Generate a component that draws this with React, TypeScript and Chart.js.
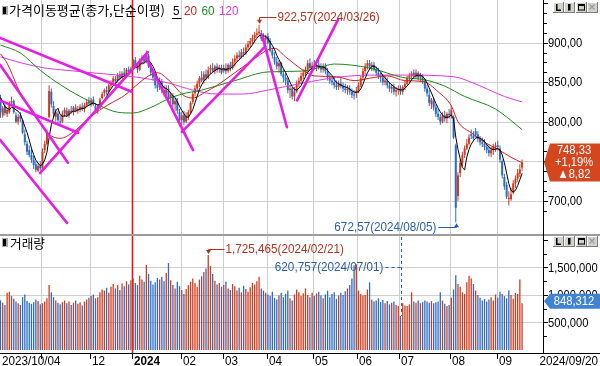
import React, { useEffect, useRef } from 'react';
import { Chart, registerables } from 'chart.js';

Chart.register(...registerables);

// ---------------- data (2023/10/04 .. 2024/09/20, one entry per trading day) ----------------
const opens = [
  830,808,820,810,812,824,826,808,800,808,802,784,772,764,758,752,746,738,744,
  742,764,772,806,838,820,806,810,800,800,810,814,808,814,812,818,814,816,819,816,821,826,
  822,828,820,814,818,830,836,840,838,846,850,854,852,860,856,862,860,866,864,
  868,878,870,866,878,880,876,884,870,862,856,846,844,850,840,836,842,830,832,822,826,812,
  802,808,800,806,812,825,836,842,848,856,852,860,856,866,868,864,870,866,868,
  864,868,864,872,868,876,880,884,882,888,886,894,898,902,906,910,912,912,906,904,
  908,902,890,882,876,870,874,860,856,852,840,842,832,838,848,852,858,862,866,874,868,
  872,870,872,868,866,870,864,856,852,850,846,844,848,845,842,840,842,838,834,836,
  838,846,856,864,870,874,870,872,866,862,858,856,850,852,846,842,844,838,840,
  842,838,844,848,856,858,862,857,862,856,858,852,842,834,822,826,818,810,806,800,808,804,810,
  808,806,770,706,735,748,758,766,772,784,782,788,784,778,774,772,768,764,760,764,768,
  770,766,750,730,720,702,702,710,722,728,734,742,
];
const highs = [
  834,820,822,818,826,832,828,812,810,812,804,790,776,770,766,757,750,748,750,
  766,776,790,846,842,826,816,814,808,814,818,818,816,820,820,822,820,822,824,824,828,831,
  830,832,824,822,830,838,842,845,848,852,858,858,862,864,864,868,868,870,870,
  880,882,874,880,884,884,890,886,874,866,860,852,856,854,846,846,846,838,836,830,830,816,
  812,814,812,815,826,838,846,852,858,864,864,866,870,872,874,872,874,872,872,
  872,874,874,876,880,884,888,890,892,894,898,902,906,910,914,918,922.57,916,912,910,
  912,906,894,888,882,878,876,866,862,856,846,844,844,852,856,862,866,870,878,880,876,
  878,876,878,874,874,874,868,860,858,856,852,852,856,850,848,846,846,842,840,844,
  850,858,868,874,878,878,876,876,870,868,862,860,858,856,850,848,848,844,846,
  846,846,852,858,862,864,866,866,864,862,860,854,846,840,830,830,822,816,810,812,814,812,816,
  818,808,772,736,752,762,770,778,784,790,788,792,788,782,780,778,772,770,768,772,774,
  776,770,752,734,724,712,716,726,732,740,746,752,
];
const lows = [
  805,805,808,806,810,820,810,798,796,800,784,770,758,755,748,740,736,736,738,
  740,760,770,804,818,806,800,798,796,798,806,806,805,810,808,812,810,812,814,812,818,820,
  819,820,812,810,816,828,832,834,836,842,846,848,850,852,854,856,856,860,860,
  866,868,862,864,872,874,874,868,858,852,842,838,840,836,832,830,826,822,818,814,810,798,
  789,796,798,802,810,822,832,838,844,850,848,852,854,860,862,860,862,862,860,
  862,860,862,864,866,870,876,878,880,882,884,890,894,898,900,906,908,902,900,898,
  898,888,880,872,866,862,858,850,846,836,830,828,826,836,844,848,854,858,862,866,864,
  866,864,866,862,862,860,852,848,846,842,840,840,842,838,836,834,834,830,828,830,
  836,844,852,860,866,866,864,864,858,854,850,846,846,842,838,836,834,832,834,
  834,834,840,846,850,852,854,854,852,850,848,838,832,820,816,814,806,802,796,798,800,798,804,
  804,778,672.57,700,730,744,754,764,770,778,776,780,774,770,768,764,760,756,755,758,762,
  764,748,728,714,702,694,700,708,716,724,730,738,
];
const closes = [
  812,817,811,815,822,826,812,800,806,804,786,774,762,758,752,745,739,744,741,
  762,772,786,839,822,810,812,802,799,810,815,808,814,812,818,814,816,819,816,821,825,823,
  827,822,815,818,828,835,840,838,846,849,855,852,859,856,861,859,866,863,867,
  878,871,866,878,879,876,886,870,862,856,846,843,850,840,836,842,830,834,822,826,814,802,
  808,800,806,812,824,835,842,848,855,852,860,856,865,868,864,870,866,869,862,
  868,864,872,868,876,880,884,882,888,886,894,898,902,906,910,912,914,905,902,907,
  900,890,884,876,870,874,860,856,852,840,842,832,838,848,852,858,862,866,874,868,871,
  870,872,868,866,870,864,856,852,850,846,844,848,845,842,840,842,838,834,833,839,
  846,855,864,870,874,870,872,866,862,858,856,850,852,846,842,844,838,840,841,
  838,844,848,855,858,861,857,862,856,859,852,842,836,824,828,818,810,806,800,808,804,810,808,
  814,780,691,732,748,758,766,772,780,782,779,783,778,774,772,768,764,760,764,768,770,
  768,752,732,718,705,702,708,722,728,735,739.5,748.33,
];
// volume in thousand shares
const volumes = [
  905,860,820,1040,1060,980,930,880,850,820,960,1010,890,860,840,870,920,890,830,
  850,880,940,1180,1050,960,900,860,830,870,900,850,880,820,860,900,840,870,810,880,920,950,
  980,1010,940,960,1050,1100,1080,1130,1040,1150,1200,1120,1180,1090,1210,1160,1250,1190,1270,
  1300,1220,1180,1350,1280,1240,1550,1380,1260,1190,1230,1310,1280,1330,1250,1400,1580,1270,1180,1120,1240,1160,
  1090,1020,1110,1180,1240,1300,1220,1150,1280,1340,1420,1480,1725.465,1530,1380,1260,1190,1220,1150,
  1180,1240,1120,1090,1200,1160,1080,1130,1050,1170,1110,1060,1140,1220,1190,1250,1330,1120,1080,1040,
  1010,980,1060,950,920,990,1040,960,1020,1080,940,900,1010,1100,1050,980,1030,1120,1000,960,1040,
  980,1030,1060,990,940,1010,1080,960,1020,1050,930,990,1040,1000,1070,1120,1180,1300,1540,1560,
  1080,1020,990,1000,1100,1230,920,880,900,940,870,910,850,890,830,860,880,820,800,
  620.757,850,810,800,830,1050,880,860,900,850,870,900,880,860,890,850,870,880,1050,900,840,800,820,
  950,1100,1360,1200,1150,1050,1020,1230,1350,1300,1200,1080,1000,950,900,930,880,920,960,900,1010,
  950,1060,1020,980,940,1080,1000,930,1040,1020,1280,848.312,
];
// closes of the 4 sessions before the first bar (for the 5-day average)
const preCloses = [848, 838, 826, 830];

// moving averages: [bar index, value]
const ma20Pts = [
  [0, 886], [3, 874], [9, 836], [18, 799], [22, 784], [27, 779], [33, 787], [39, 802], [45, 815],
  [51, 825], [56, 833], [61, 845], [67, 858], [71, 862], [76, 853], [83, 833], [87, 830], [93, 838],
  [98, 846], [106, 862], [114, 878], [121, 891], [124, 893], [129, 882], [137, 865], [142, 858],
  [152, 857], [160, 852], [167, 855], [175, 858], [183, 852], [191, 851], [198, 838], [204, 820],
  [207, 800], [213, 786], [219, 774], [225, 765], [231, 755], [236, 748],
];
const ma60Pts = [
  [0, 897], [9, 887], [18, 865], [27, 847], [36, 832], [45, 820], [53, 812], [60, 811], [68, 818],
  [76, 829], [82, 835], [91, 840], [106, 852], [121, 863], [136, 864], [145, 869], [151, 873],
  [167, 868], [182, 856], [192, 853], [201, 845], [210, 832], [224, 816], [236, 790],
];
const ma120Pts = [
  [0, 882], [10, 874], [20, 868], [30, 865], [45, 861], [60, 857], [76, 849], [87, 840], [98, 835],
  [110, 835], [121, 840], [137, 849], [152, 856], [167, 859], [182, 859], [205, 857], [213, 850],
  [228, 832], [236, 825],
];
// hand-drawn trend lines: [index1, value1, index2, value2]
const trendLines = [
  [-0.2, 906, 59.4, 838],
  [-0.2, 872, 30.5, 748],
  [-0.2, 827, 35.1, 786],
  [-0.2, 777, 30.1, 672],
  [17.9, 735, 66.7, 888],
  [65.4, 884, 87.1, 764],
  [82.1, 787, 119.7, 895],
  [118.3, 910, 129.6, 793],
  [134.2, 827, 152.7, 929],
];

const monthIdx = [19, 41, 60, 82, 101, 121, 142, 162, 181, 204, 225];
const monthLabels = ['', '12', '2024', '02', '03', '04', '05', '06', '07', '08', '09'];
const firstDateLabel = '2023/10/04';
const lastDateLabel = '2024/09/20';
const priceTicks = [700, 750, 800, 850, 900];
const volTicks = [500, 1000, 1500];
const highNote = '922,57(2024/03/26)';
const lowNote = '672,57(2024/08/05)';
const volHighNote = '1,725,465(2024/02/21)';
const volLowNote = '620,757(2024/07/01)';
const priceBadge = ['748,33', '+1,19%', '▲8,82'];
const volBadge = '848,312';
const titleText = '가격이동평균(종가,단순이평)';
const maNames = ['5', '20', '60', '120'];
const volTitle = '거래량';

// ---------------- styling ----------------
const W = 600, H = 366;
const UP = '#d03c1e', DOWN = '#2d6cc2';
const GRID = '#cfcfcf';
const TREND = '#e41ee4';
const MA_COLORS = ['#000000', '#d82020', '#1e8a1e', '#e03ae0'];
const NOTE_RED = '#b0321e', NOTE_BLUE = '#2c5ea8';
const NUM_FONT = '"Liberation Sans", Arial, sans-serif';
const KR_FONT = '"Noto Sans CJK KR", "Noto Sans", sans-serif';

function txt(ctx: CanvasRenderingContext2D, s: string, x: number, y: number, o: any = {}) {
  const size = o.size ?? 13, color = o.color ?? '#000', align = o.align ?? 'left';
  const fam = o.family ?? NUM_FONT;
  ctx.save();
  ctx.font = `${o.bold ? 'bold ' : ''}${size}px ${fam}`;
  ctx.fillStyle = color;
  ctx.textBaseline = 'middle';
  ctx.textAlign = 'left';
  const raw = ctx.measureText(s).width;
  const sx = o.width ? o.width / raw : (o.sx ?? 0.9);
  const w = raw * sx;
  const x0 = align === 'right' ? x - w : align === 'center' ? x - w / 2 : x;
  ctx.translate(x0, y);
  ctx.scale(sx, 1);
  ctx.fillText(s, 0, 0);
  ctx.restore();
  return w;
}

function drawButtons(ctx: CanvasRenderingContext2D, y: number) {
  for (let k = 0; k < 4; k++) {
    const xi = Math.round(553 + k * 11.3);
    ctx.fillStyle = '#d4d2cc';
    ctx.fillRect(xi, y, 10, 10);
    ctx.fillStyle = '#ffffff';
    ctx.fillRect(xi, y, 10, 1);
    ctx.fillRect(xi, y, 1, 10);
    ctx.fillStyle = '#7c7c7c';
    ctx.fillRect(xi, y + 10, 11, 1);
    ctx.fillRect(xi + 10, y, 1, 11);
    ctx.fillStyle = '#000';
    if (k === 0) {
      ctx.fillRect(xi + 3, y + 2, 1.5, 6.5);
      ctx.fillRect(xi + 3, y + 7.5, 5, 1.5);
    } else if (k === 1) {
      ctx.fillRect(xi + 4, y + 2, 2.5, 6.5);
    } else if (k === 2) {
      ctx.fillRect(xi + 2, y + 2, 7, 2);
      ctx.fillRect(xi + 2, y + 2, 1, 6.5);
      ctx.fillRect(xi + 8, y + 2, 1, 6.5);
      ctx.fillRect(xi + 2, y + 7.5, 7, 1);
    } else {
      ctx.strokeStyle = '#9a9a9a';
      ctx.lineWidth = 1.3;
      ctx.beginPath();
      ctx.moveTo(xi + 2.5, y + 2.5); ctx.lineTo(xi + 7.5, y + 7.5);
      ctx.moveTo(xi + 7.5, y + 2.5); ctx.lineTo(xi + 2.5, y + 7.5);
      ctx.stroke();
    }
  }
}

function drawIcon(ctx: CanvasRenderingContext2D, x: number, y: number) {
  ctx.fillStyle = '#a8a8a8';
  ctx.fillRect(x, y, 6, 9);
  ctx.fillStyle = '#000';
  ctx.fillRect(x + 1, y + 1, 3, 7);
}

function argMax(a: number[]) { let k = 0; a.forEach((v, i) => { if (v > a[k]) k = i; }); return k; }
function argMin(a: number[]) { let k = 0; a.forEach((v, i) => { if (v < a[k]) k = i; }); return k; }

const htsPlugin = {
  id: 'hts',
  beforeDraw(chart: any) {
    const ctx = chart.ctx;
    ctx.save();
    ctx.fillStyle = '#fff';
    ctx.fillRect(0, 0, chart.width, chart.height);
    ctx.restore();
  },
  beforeDatasetsDraw(chart: any) {
    const ctx = chart.ctx, a = chart.chartArea;
    const xs = chart.scales.x, yp = chart.scales.y, yv = chart.scales.yv;
    ctx.save();
    ctx.strokeStyle = GRID;
    ctx.lineWidth = 1;
    ctx.beginPath();
    monthIdx.forEach((m, k) => {
      if (monthLabels[k] === '2024') return;
      const px = Math.round(xs.getPixelForValue(m - 0.5)) + 0.5;
      ctx.moveTo(px, 0); ctx.lineTo(px, a.bottom);
    });
    priceTicks.forEach((v) => {
      const py = Math.round(yp.getPixelForValue(v)) + 0.5;
      ctx.moveTo(0, py); ctx.lineTo(a.right, py);
    });
    volTicks.forEach((v) => {
      const py = Math.round(yv.getPixelForValue(v)) + 0.5;
      ctx.moveTo(0, py); ctx.lineTo(a.right, py);
    });
    ctx.stroke();
    const yk = monthLabels.indexOf('2024');
    const yx = Math.round(xs.getPixelForValue(monthIdx[yk] - 0.4)) + 0.5;
    ctx.strokeStyle = '#e8121c';
    ctx.lineWidth = 1.6;
    ctx.beginPath();
    ctx.moveTo(yx, 0); ctx.lineTo(yx, 353);
    ctx.stroke();
    ctx.restore();
  },
  afterDatasetsDraw(chart: any) {
    const ctx: CanvasRenderingContext2D = chart.ctx;
    const xs = chart.scales.x, yp = chart.scales.y, yv = chart.scales.yv;
    ctx.save();

    // panel separator
    ctx.fillStyle = '#9c9c9c';
    ctx.fillRect(0, 234, W, 2);

    // right axis
    ctx.fillStyle = '#000';
    ctx.fillRect(543, 0, 1, 353);
    for (let v = 687.5; v <= 950; v += 12.5) {
      const py = Math.round(yp.getPixelForValue(v));
      if (py < 2 || py > 231) continue;
      ctx.fillRect(544, py, v % 50 === 0 ? 4 : 3, 1);
    }
    for (let v = 250; v <= 2000; v += 250) {
      const py = Math.round(yv.getPixelForValue(v));
      if (py < 238 || py > 349) continue;
      ctx.fillRect(544, py, v % 500 === 0 ? 4 : 3, 1);
    }
    priceTicks.forEach((v) => txt(ctx, v.toFixed(2).replace('.', ','), 548, yp.getPixelForValue(v) + 0.5, { sx: 0.86 }));
    volTicks.forEach((v) => txt(ctx, (v * 1000).toLocaleString('en-US'), 548, yv.getPixelForValue(v) + 0.5, { sx: 0.86 }));

    // bottom strip
    ctx.fillStyle = '#000';
    ctx.fillRect(0, 353, W, 1);
    monthIdx.forEach((m, k) => {
      const px = Math.round(xs.getPixelForValue(m - 0.5));
      ctx.fillStyle = '#000';
      ctx.fillRect(px, 353, 1, 6);
      if (monthLabels[k]) txt(ctx, monthLabels[k], px + 2, 361.5, { bold: monthLabels[k] === '2024' });
    });
    txt(ctx, firstDateLabel, 2, 361.5, {});
    txt(ctx, lastDateLabel, 598, 361.5, { align: 'right' });

    // annotations: price high / low
    ctx.lineWidth = 1;
    const hi = argMax(highs);
    const hx = Math.round(xs.getPixelForValue(hi)) + 0.5;
    const hy = yp.getPixelForValue(highs[hi]);
    ctx.strokeStyle = NOTE_RED; ctx.fillStyle = NOTE_RED;
    ctx.beginPath();
    ctx.moveTo(hx, hy - 2); ctx.lineTo(hx, 17.5); ctx.lineTo(hx + 17, 17.5);
    ctx.stroke();
    ctx.beginPath();
    ctx.moveTo(hx - 2.5, hy - 5); ctx.lineTo(hx + 2.5, hy - 5); ctx.lineTo(hx, hy - 1); ctx.closePath(); ctx.fill();
    txt(ctx, highNote, hx + 18, 17.5, { color: NOTE_RED });

    const lo = argMin(lows);
    const lx = Math.round(xs.getPixelForValue(lo)) + 0.5;
    const ly = yp.getPixelForValue(lows[lo]);
    ctx.strokeStyle = NOTE_BLUE; ctx.fillStyle = NOTE_BLUE;
    ctx.beginPath();
    ctx.moveTo(lx - 18, 227.5); ctx.lineTo(lx, 227.5); ctx.lineTo(lx, ly + 2);
    ctx.stroke();
    ctx.beginPath();
    ctx.moveTo(lx - 2.5, ly + 5); ctx.lineTo(lx + 2.5, ly + 5); ctx.lineTo(lx, ly + 1); ctx.closePath(); ctx.fill();
    txt(ctx, lowNote, lx - 20, 227.5, { color: NOTE_BLUE, align: 'right' });

    // annotations: volume high / low
    const vh = argMax(volumes);
    const vhx = Math.round(xs.getPixelForValue(vh)) + 0.5;
    const vhy = yv.getPixelForValue(volumes[vh]);
    ctx.strokeStyle = NOTE_RED; ctx.fillStyle = NOTE_RED;
    ctx.beginPath();
    ctx.moveTo(vhx, vhy - 2); ctx.lineTo(vhx, 249.5); ctx.lineTo(vhx + 16, 249.5);
    ctx.stroke();
    ctx.beginPath();
    ctx.moveTo(vhx - 2.5, vhy - 5); ctx.lineTo(vhx + 2.5, vhy - 5); ctx.lineTo(vhx, vhy - 1); ctx.closePath(); ctx.fill();
    txt(ctx, volHighNote, vhx + 17, 249.5, { color: NOTE_RED });

    const vl = argMin(volumes);
    const vlx = Math.round(xs.getPixelForValue(vl)) + 0.5;
    const vly = yv.getPixelForValue(volumes[vl]);
    ctx.strokeStyle = NOTE_BLUE;
    ctx.setLineDash([3, 3]);
    ctx.beginPath();
    ctx.moveTo(vlx, 237); ctx.lineTo(vlx, vly);
    ctx.moveTo(vlx - 16, 267.5); ctx.lineTo(vlx, 267.5);
    ctx.stroke();
    ctx.setLineDash([]);
    txt(ctx, volLowNote, vlx - 18, 267.5, { color: NOTE_BLUE, align: 'right' });

    // badges
    const drawBadge = (cy: number, h: number, color: string) => {
      ctx.fillStyle = color;
      ctx.beginPath();
      ctx.moveTo(544, cy);
      ctx.lineTo(550, cy - h / 2);
      ctx.lineTo(600, cy - h / 2);
      ctx.lineTo(600, cy + h / 2);
      ctx.lineTo(550, cy + h / 2);
      ctx.closePath();
      ctx.fill();
    };
    const pcy = yp.getPixelForValue(closes[closes.length - 1]);
    drawBadge(pcy, 38, '#d4461e');
    txt(ctx, priceBadge[0], 574, pcy - 12, { color: '#fff', align: 'center', sx: 0.86 });
    txt(ctx, priceBadge[1], 574, pcy, { color: '#fff', align: 'center', sx: 0.86 });
    txt(ctx, priceBadge[2], 574, pcy + 12, { color: '#fff', align: 'center', sx: 0.86 });
    const vcy = yv.getPixelForValue(volumes[volumes.length - 1]) - 2;
    drawBadge(vcy, 15, '#3f82d4');
    txt(ctx, volBadge, 574, vcy + 0.5, { color: '#fff', align: 'center', sx: 0.86 });

    // legends
    drawIcon(ctx, 2, 6);
    txt(ctx, titleText, 9, 10.5, { family: KR_FONT, size: 13, width: 156 });
    let lxp = 173;
    maNames.forEach((n, k) => {
      const w = txt(ctx, n, lxp, 11, { color: MA_COLORS[k] });
      if (k === 0) {
        ctx.fillStyle = '#000';
        ctx.fillRect(lxp - 1, 18, w + 3, 1);
      }
      lxp += w + 4.5;
    });
    drawIcon(ctx, 2, 238);
    txt(ctx, volTitle, 10, 243, { family: KR_FONT, size: 13, width: 35 });

    drawButtons(ctx, 2);
    drawButtons(ctx, 236);
    ctx.restore();
  },
};

export default function App() {
  const ref = useRef<HTMLCanvasElement>(null);
  useEffect(() => {
    const canvas = ref.current;
    if (!canvas) return;
    const idxs = closes.map((_, i) => i);
    const candleColors = idxs.map((i) => (closes[i] >= opens[i] ? UP : DOWN));
    const volColors = idxs.map((i) => ((i === 0 ? closes[0] >= opens[0] : closes[i] >= closes[i - 1]) ? UP : DOWN));
    const all = [...preCloses, ...closes];
    const ma5 = idxs.map((i) => {
      const j = i + preCloses.length;
      let s = 0;
      for (let k = j - 4; k <= j; k++) s += all[k];
      return { x: i, y: s / 5 };
    });
    const lineBase = { type: 'line', pointRadius: 0, borderWidth: 1, yAxisID: 'y', fill: false };
    const datasets: any[] = [
      ...trendLines.map((t) => ({
        ...lineBase, data: [{ x: t[0], y: t[1] }, { x: t[2], y: t[3] }],
        borderColor: TREND, borderWidth: 2.6, borderCapStyle: 'round', order: 0,
      })),
      { ...lineBase, data: ma5, borderColor: MA_COLORS[0], order: 1 },
      { ...lineBase, data: ma20Pts.map(([x, y]) => ({ x, y })), borderColor: MA_COLORS[1], cubicInterpolationMode: 'monotone', order: 1 },
      { ...lineBase, data: ma60Pts.map(([x, y]) => ({ x, y })), borderColor: MA_COLORS[2], cubicInterpolationMode: 'monotone', order: 1 },
      { ...lineBase, data: ma120Pts.map(([x, y]) => ({ x, y })), borderColor: MA_COLORS[3], cubicInterpolationMode: 'monotone', order: 1 },
      {
        type: 'bar', yAxisID: 'y', order: 2, grouped: false, inflateAmount: 0, barThickness: 2, minBarLength: 1,
        data: idxs.map((i) => ({ x: i, y: [Math.min(opens[i], closes[i]), Math.max(opens[i], closes[i])] })),
        backgroundColor: candleColors,
      },
      {
        type: 'bar', yAxisID: 'y', order: 3, grouped: false, inflateAmount: 0, barThickness: 1,
        data: idxs.map((i) => ({ x: i, y: [lows[i], highs[i]] })),
        backgroundColor: candleColors,
      },
      {
        type: 'bar', yAxisID: 'yv', order: 4, grouped: false, inflateAmount: 0, barThickness: 1.3,
        data: idxs.map((i) => ({ x: i, y: volumes[i] })),
        backgroundColor: volColors,
      },
    ];
    const chart = new Chart(canvas, {
      type: 'line',
      data: { datasets },
      options: {
        responsive: false,
        maintainAspectRatio: false,
        animation: false,
        devicePixelRatio: 1,
        events: [],
        layout: { padding: { left: 0, right: 57, top: 0, bottom: 16 } },
        plugins: { legend: { display: false }, tooltip: { enabled: false } },
        scales: {
          x: { type: 'linear', min: -0.226, max: 245.47, display: false, offset: false },
          y: { type: 'linear', min: 511.0, max: 954.05, display: false },
          yv: { type: 'linear', min: 0, max: 6363.6, display: false },
        },
      } as any,
      plugins: [htsPlugin],
    } as any);
    return () => chart.destroy();
  }, []);
  return (
    <div style={{ position: 'absolute', left: 0, top: 0, width: W, height: H, background: '#fff' }}>
      <canvas ref={ref} width={W} height={H} style={{ width: W, height: H, display: 'block' }} />
    </div>
  );
}
